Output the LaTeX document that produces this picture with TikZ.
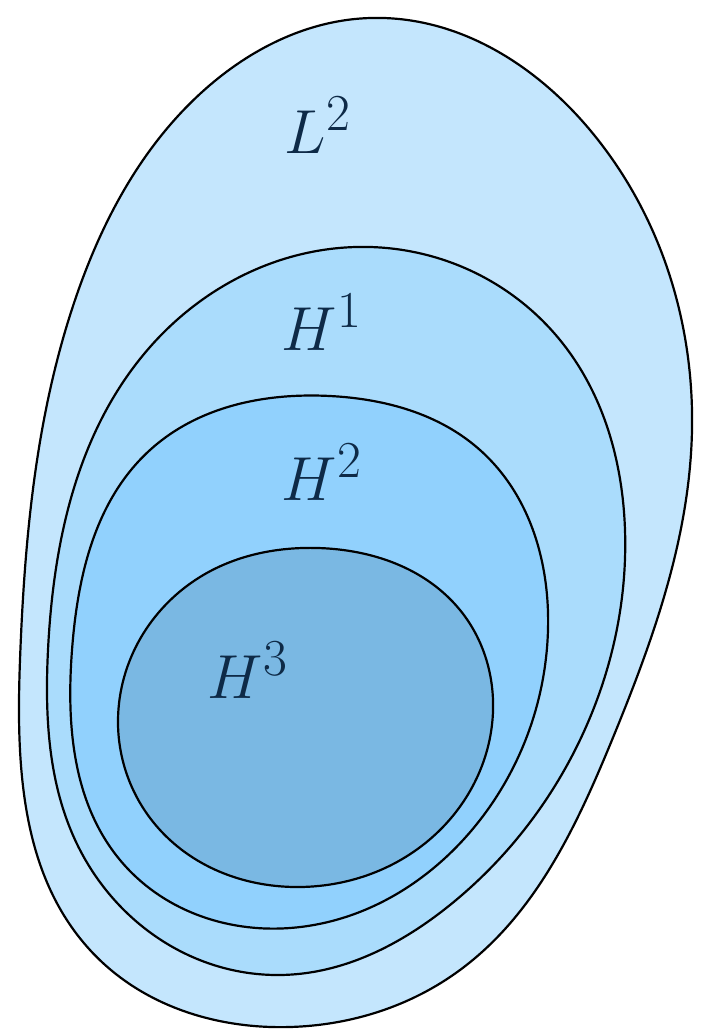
\documentclass[tikz,border=0pt]{standalone}
\usepackage{xcolor}
\usetikzlibrary{hobby}
\definecolor{cL}{HTML}{C4E6FD}
\definecolor{cHa}{HTML}{AADCFC}
\definecolor{cHb}{HTML}{91D1FD}
\definecolor{cHc}{HTML}{7AB8E3}
\definecolor{txt}{HTML}{0E2A47}
\begin{document}
\begin{tikzpicture}[x=1pt,y=-1pt,use Hobby shortcut,
  blob/.style={draw=black,line width=2.2pt,closed=true},
  lab/.style={text=txt,font=\Huge,scale=2.5,inner sep=0pt}]
\useasboundingbox (0,0) rectangle (704,1029);
\draw[blob,fill=cL] (370,18) .. (590,130) .. (692,430) .. (612,740) .. (460,970) .. (290,1027) .. (90,950) .. (20,660) .. (75,300) .. (210,85);
\draw[blob,fill=cHa] (370,247) .. (560,340) .. (625,530) .. (580,740) .. (450,905) .. (280,975) .. (80,850) .. (48,650) .. (150,347);
\draw[blob,fill=cHb] (330,396) .. (480,450) .. (548,630) .. (480,820) .. (290,928) .. (120,860) .. (72,650) .. (150,450);
\draw[blob,fill=cHc] (318,548) .. (460,610) .. (493,700) .. (440,830) .. (300,887) .. (160,830) .. (118,720) .. (200,577);
\node[lab] (L2) at (318,125) {$L^2$};
\node[lab] (H1) at (322,322) {$H^1$};
\node[lab] (H2) at (322,472) {$H^2$};
\node[lab] (H3) at (248,670) {$H^3$};
\end{tikzpicture}
\end{document}
